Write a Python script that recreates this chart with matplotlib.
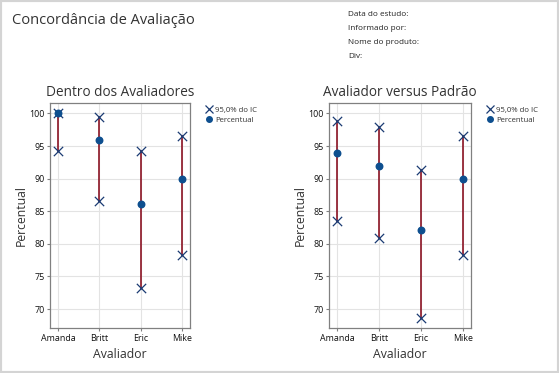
import matplotlib.pyplot as plt
from matplotlib.patches import Rectangle
from matplotlib.lines import Line2D

plt.rcParams['font.family'] = ['Open Sans', 'DejaVu Sans']

avaliadores = ['Amanda', 'Britt', 'Eric', 'Mike']

# Dentro dos Avaliadores
dentro_pct = [100.0, 96.0, 86.1, 90.0]
dentro_low = [94.2, 86.5, 73.2, 78.3]
dentro_high = [100.0, 99.5, 94.2, 96.6]

# Avaliador versus Padrão
padrao_pct = [94.0, 92.0, 82.1, 90.0]
padrao_low = [83.5, 80.9, 68.7, 78.3]
padrao_high = [98.8, 97.9, 91.4, 96.6]

info_labels = ['Data do estudo:', 'Informado por:', 'Nome do produto:', 'Div:']

LINE_COLOR = '#8b1323'
X_COLOR = '#1b3b73'
DOT_COLOR = '#0e4f8f'
TEXT_COLOR = '#333333'

fig = plt.figure(figsize=(5.59, 3.73), dpi=100)
fig.patch.set_facecolor('white')
fig.add_artist(Rectangle((0, 0), 1, 1, transform=fig.transFigure, fill=False,
                         edgecolor='#d4d4d4', linewidth=3))

fig.text(12 / 559, 1 - 20 / 373, 'Concordância de Avaliação', fontsize=10.5,
         color=TEXT_COLOR, va='center', ha='left')
for i, lab in enumerate(info_labels):
    fig.text(348 / 559, 1 - (15 + 13.7 * i) / 373, lab, fontsize=5.9,
             color='#222222', va='center', ha='left')


def draw_panel(ax, title, pct, low, high):
    x = list(range(len(avaliadores)))
    for xi, lo, hi in zip(x, low, high):
        ax.plot([xi, xi], [lo, hi], color=LINE_COLOR, linewidth=1.2, zorder=2)
    ax.scatter(x, low, marker='x', s=45, color=X_COLOR, linewidths=0.9, zorder=3)
    ax.scatter(x, high, marker='x', s=45, color=X_COLOR, linewidths=0.9, zorder=3)
    ax.scatter(x, pct, marker='o', s=22, color=DOT_COLOR, zorder=4)
    ax.set_xlim(-0.2, 3.2)
    ax.set_ylim(67.1, 101.6)
    ax.set_yticks([70, 75, 80, 85, 90, 95, 100])
    ax.set_xticks(x)
    ax.set_xticklabels(avaliadores)
    ax.grid(True, color='#e3e3e3', linewidth=0.8)
    ax.set_axisbelow(True)
    for sp in ax.spines.values():
        sp.set_color('#808080')
        sp.set_linewidth(0.9)
    ax.tick_params(labelsize=6.4, length=2, color='#808080', labelcolor='#111111', pad=2)
    ax.set_title(title, fontsize=9.8, color=TEXT_COLOR, pad=5)
    ax.set_xlabel('Avaliador', fontsize=8.8, color=TEXT_COLOR, labelpad=4)
    ax.set_ylabel('Percentual', fontsize=8.8, color=TEXT_COLOR, labelpad=1)

    handles = [
        Line2D([], [], marker='x', linestyle='none', color=X_COLOR, markersize=6, markeredgewidth=0.9),
        Line2D([], [], marker='o', linestyle='none', color=DOT_COLOR, markersize=4),
    ]
    ax.legend(handles, ['95,0% do IC', 'Percentual'], loc='upper left',
              bbox_to_anchor=(1.085, 1.0), frameon=False, fontsize=5.6,
              handletextpad=0.3, labelspacing=0.35, handlelength=1.0,
              borderaxespad=0.0, labelcolor='#333333')


ax1 = fig.add_axes([50 / 559, 1 - 328 / 373, 140 / 559, 225 / 373])
ax2 = fig.add_axes([329 / 559, 1 - 328 / 373, 142 / 559, 225 / 373])

draw_panel(ax1, 'Dentro dos Avaliadores', dentro_pct, dentro_low, dentro_high)
draw_panel(ax2, 'Avaliador versus Padrão', padrao_pct, padrao_low, padrao_high)

fig.savefig('out.png', dpi=100)
